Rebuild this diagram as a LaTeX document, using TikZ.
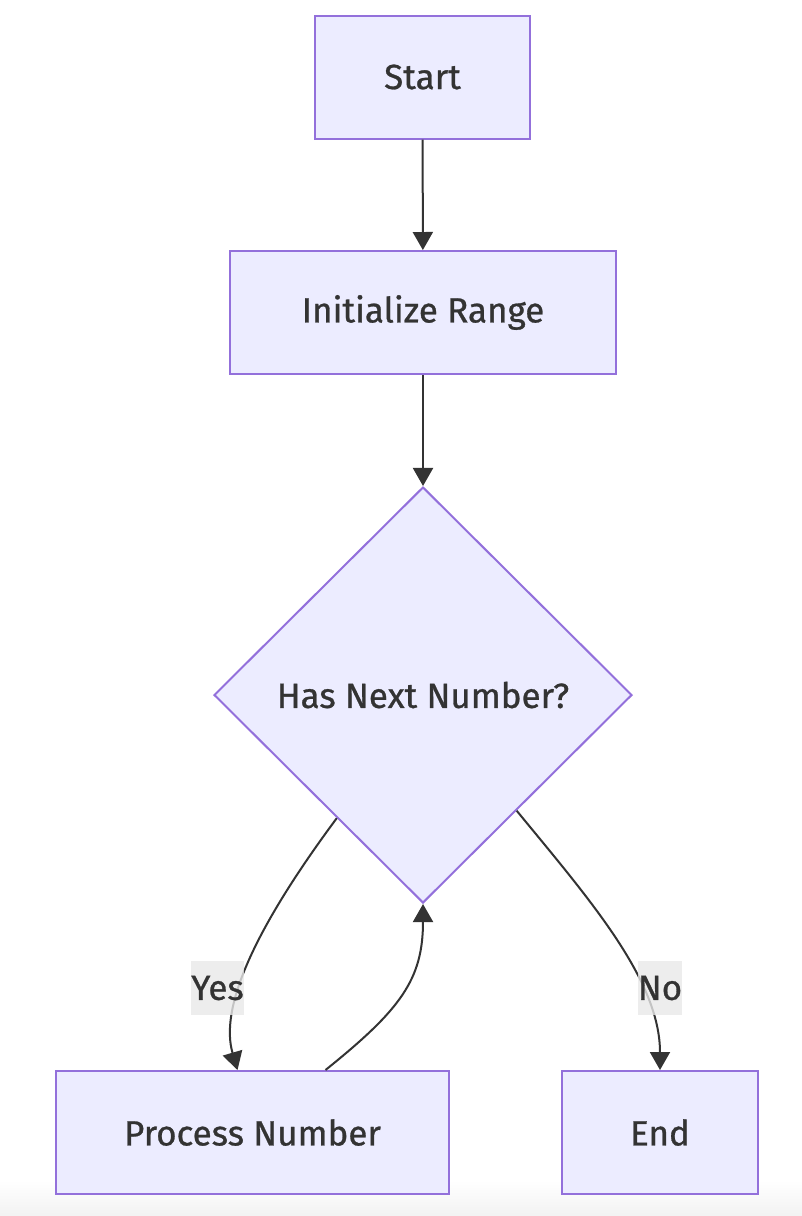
\documentclass[tikz,border=0pt]{standalone}
\usepackage{fontspec}
\setmainfont{Fira Sans}[FakeBold=0.8]
\usetikzlibrary{shapes.geometric,arrows.meta}
\definecolor{nodefill}{HTML}{ECECFF}
\definecolor{nodeline}{HTML}{9370DB}
\definecolor{inkgray}{HTML}{333333}
\definecolor{labelbg}{HTML}{E8E8E8}
\newcommand{\flowfont}{\fontsize{35}{42}\selectfont}

\begin{document}
\begin{tikzpicture}[x=1pt, y=-1pt, line width=2pt,
        box/.style={draw=nodeline, fill=nodefill, text=inkgray, minimum height=123pt, font=\flowfont},
        decision/.style={diamond, draw=nodeline, fill=nodefill, text=inkgray, minimum width=418pt, minimum height=416pt, inner sep=0pt, font=\flowfont},
        flow/.style={draw=inkgray, -{Triangle[length=18pt, width=20pt]}},
        edgelabel/.style={fill=labelbg, fill opacity=0.8, text opacity=1, text=inkgray, inner xsep=0pt, minimum height=54pt, font=\flowfont}]
                \useasboundingbox (0, 0) rectangle (802, 1216);
                \fill[top color=white, bottom color=black!5] (0, 1180) rectangle (802, 1216);
                % nodes
                \node[box, minimum width=215pt] (start) at (422.5, 77) {Start};
                \node[box, minimum width=386pt] (init) at (423, 312.5) {Initialize Range};
                \node[decision] (hasnext) at (423, 695) {Has Next Number?};
                \node[box, minimum width=393pt] (process) at (252.5, 1132.5) {Process Number};
                \node[box, minimum width=196pt] (end) at (660, 1132.5) {End};
                % edges
                \draw[flow] (start) -- (init);
                \draw[flow] (init) -- (hasnext);
                \draw[flow] (hasnext.235) .. controls (250, 935) and (220, 1010) .. ([xshift=-15pt]process.north);
                \draw[flow] ([xshift=73pt]process.north) .. controls (400, 1010) and (423, 980) .. (hasnext.south);
                \draw[flow] (hasnext.309) .. controls (590, 900) and (660, 980) .. (end.north);
                % edge labels
                \node[edgelabel, minimum width=51pt] (yes) at (217.5, 988) {Yes};
                \node[edgelabel, minimum width=44pt] (no) at (660, 988) {No};
        \end{tikzpicture}
\end{document}
